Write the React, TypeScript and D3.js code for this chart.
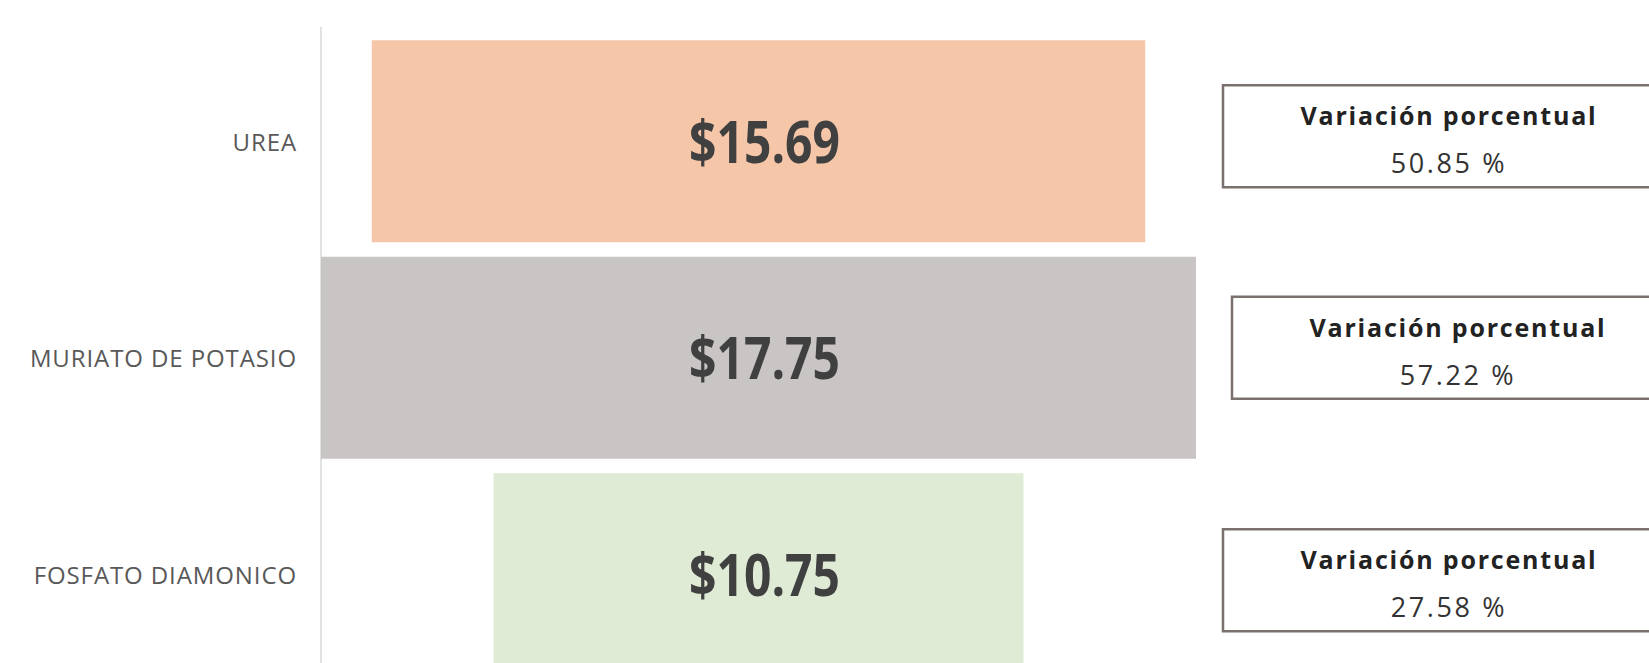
import React from "react";
import * as d3 from "d3";

// ---- data ----
const categories = ["UREA", "MURIATO DE POTASIO", "FOSFATO DIAMONICO"];
const prices = [15.69, 17.75, 10.75];
const variations = [50.85, 57.22, 27.58];
const variationTitle = "Variación porcentual";
const barColors = ["#F5C7A8", "#C9C5C4", "#E0EBD6"];

// ---- layout ----
const W = 1649;
const H = 663;
const AXIS_X = 321;
const PLOT_RIGHT = 1196;
const BOX_DY = [-5, -10, 6];
const BOX_DX = [0, 9, 0];
const BOX_X = 1223;
const BOX_W = 470;
const BOX_H = 102;

export default function App() {
  const y = d3
    .scaleBand<string>()
    .domain(categories)
    .range([33, 682.5])
    .paddingInner(0.067)
    .paddingOuter(0.0335);
  const x = d3
    .scaleLinear()
    .domain([0, d3.max(prices) as number])
    .range([0, PLOT_RIGHT - AXIS_X]);
  const cx = (AXIS_X + PLOT_RIGHT) / 2;
  const fmt = d3.format(".2f");

  return (
    <svg
      width={W}
      height={H}
      style={{ position: "absolute", left: 0, top: 0, background: "#fff" }}
    >
      <rect x={0} y={0} width={W} height={H} fill="#fff" />
      <line x1={AXIS_X} x2={AXIS_X} y1={27} y2={H} stroke="#d9d9d9" strokeWidth={1.5} />
      {categories.map((c, i) => {
        const w = x(prices[i]);
        const by = y(c) as number;
        const bh = y.bandwidth();
        const mid = by + bh / 2;
        const boxTop = mid + BOX_DY[i] - BOX_H / 2;
        const boxLeft = BOX_X + BOX_DX[i];
        return (
          <g key={c}>
            <rect x={cx - w / 2} y={by} width={w} height={bh} fill={barColors[i]} />
            <text
              transform={`translate(${cx + 6},${mid}) scale(1,1.23)`}
              x={0}
              y={0}
              dy="0.36em"
              textAnchor="middle"
              fontFamily="'Open Sans', sans-serif"
              fontWeight={700}
              fontSize={48}
              fill="#404040"
            >
              {"$" + fmt(prices[i])}
            </text>
            <text
              x={297}
              y={mid + 1}
              dy="0.36em"
              textAnchor="end"
              fontFamily="'Open Sans', sans-serif"
              fontSize={24}
              letterSpacing={0.9}
              fill="#595959"
            >
              {c}
            </text>
            <rect
              x={boxLeft}
              y={boxTop}
              width={BOX_W}
              height={BOX_H}
              fill="#fff"
              stroke="#7a706d"
              strokeWidth={2.5}
            />
            <text
              x={boxLeft + 226}
              y={boxTop + 40}
              textAnchor="middle"
              fontFamily="'Open Sans', sans-serif"
              fontWeight={700}
              fontSize={25}
              letterSpacing={1.8}
              fill="#222"
            >
              {variationTitle}
            </text>
            <text
              x={boxLeft + 226}
              y={boxTop + 88}
              textAnchor="middle"
              fontFamily="'Open Sans', sans-serif"
              fontSize={27}
              letterSpacing={2.6}
              fill="#333"
            >
              {fmt(variations[i]) + " %"}
            </text>
          </g>
        );
      })}
    </svg>
  );
}
